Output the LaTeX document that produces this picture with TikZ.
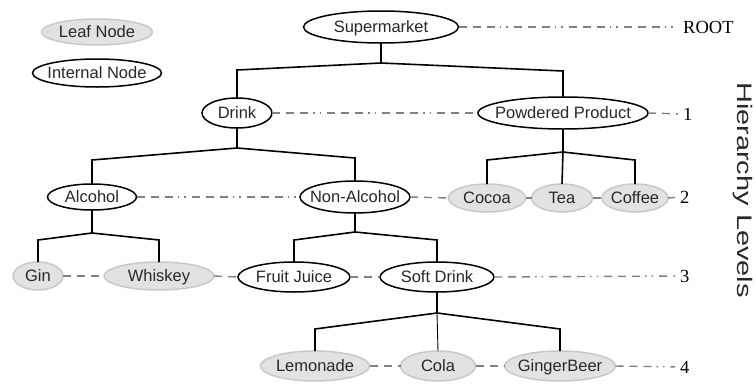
\documentclass[tikz,border=0pt]{standalone}
\usepackage{fontspec}
\usepackage{graphicx}
\setmainfont{Liberation Sans}
\newfontfamily\lvlfont{Liberation Serif}
\usetikzlibrary{shapes.geometric}
\definecolor{txt}{RGB}{40,40,40}
\definecolor{leaffill}{RGB}{226,226,226}
\definecolor{leafdraw}{RGB}{200,200,200}
\definecolor{lvlline}{RGB}{128,128,128}
\newcommand{\lb}[1]{\makebox[0pt]{#1}}
\tikzset{
  base/.style={ellipse, inner sep=0pt, outer sep=0pt, text=txt,
    text height=11.6pt, text depth=0pt,
    font=\fontsize{16.5}{18}\selectfont},
  internal/.style={base, draw=black, line width=1.5pt, fill=white},
  leaf/.style={base, draw=leafdraw, line width=1.5pt, fill=leaffill},
  lvl/.style={inner sep=0pt, anchor=west, text=black,
    font=\lvlfont\fontsize{18.5}{20}\selectfont},
  tree/.style={line width=1.6pt, black},
  thintree/.style={line width=0.9pt, black},
  level/.style={lvlline, line width=1.4pt,
    dash pattern=on 8pt off 6pt on 8pt off 6pt on 8pt off 5pt on 1.5pt off 5pt on 1.5pt off 6pt},
  tolabel/.style={level, shorten >=5pt}
}
\begin{document}
\begin{tikzpicture}[x=1pt,y=-1pt]
\useasboundingbox (0,0) rectangle (756,386);

% legend
\node[leaf, minimum width=111pt, minimum height=26pt] (legleaf) at (97,32) {\lb{Leaf Node}};
\node[internal, minimum width=129pt, minimum height=28pt] (legint) at (97,73) {\lb{Internal Node}};

% tree nodes
\node[internal, minimum width=155pt, minimum height=32pt] (sup) at (381,27) {\lb{Supermarket}};
\node[internal, minimum width=70pt, minimum height=30pt] (drink) at (237,113) {\lb{Drink}};
\node[internal, minimum width=170pt, minimum height=32pt] (powd) at (563,113) {\lb{Powdered Product}};
\node[internal, minimum width=89pt, minimum height=26pt] (alc) at (92,197) {\lb{Alcohol}};
\node[internal, minimum width=110pt, minimum height=32pt] (nonalc) at (355,197) {\lb{Non-Alcohol}};
\node[leaf, minimum width=77pt, minimum height=28pt] (cocoa) at (487,198) {\lb{Cocoa}};
\node[leaf, minimum width=61pt, minimum height=28pt] (tea) at (562,198) {\lb{Tea}};
\node[leaf, minimum width=66pt, minimum height=28pt] (coffee) at (635,198) {\lb{Coffee}};
\node[leaf, minimum width=50pt, minimum height=28pt] (gin) at (38,276) {\lb{Gin}};
\node[leaf, minimum width=110pt, minimum height=28pt] (whiskey) at (159,276) {\lb{Whiskey}};
\node[internal, minimum width=112pt, minimum height=30pt] (juice) at (294,277) {\lb{Fruit Juice}};
\node[internal, minimum width=114pt, minimum height=30pt] (soft) at (437,277) {\lb{Soft Drink}};
\node[leaf, minimum width=109pt, minimum height=30pt] (lemon) at (315,366) {\lb{Lemonade}};
\node[leaf, minimum width=75pt, minimum height=30pt] (cola) at (438,366) {\lb{Cola}};
\node[leaf, minimum width=111pt, minimum height=30pt] (ginger) at (560,366) {\lb{GingerBeer}};

% level labels
\node[lvl] (l0) at (683,27) {ROOT};
\node[lvl] (l1) at (683,114) {1};
\node[lvl] (l2) at (680,197) {2};
\node[lvl] (l3) at (680,276) {3};
\node[lvl] (l4) at (680,367) {4};
\node[rotate=-90, inner sep=0pt, text=txt, font=\fontsize{21}{24}\selectfont] (hl) at (743,190) {\scalebox{1.38}[1]{Hierarchy Levels}};

% level lines
\draw[tolabel] (sup.east) -- (l0.west);
\draw[level] (drink.east) -- (powd.west);
\draw[tolabel] (powd.east) -- (l1.west);
\draw[level] (alc.east) -- (nonalc.west);
\draw[level] (nonalc.east) -- (cocoa.west);
\draw[level] (cocoa.east) -- (tea.west);
\draw[level] (tea.east) -- (coffee.west);
\draw[tolabel] (coffee.east) -- (l2.west);
\draw[level] (gin.east) -- (whiskey.west);
\draw[level] (whiskey.east) -- (juice.west);
\draw[level] (juice.east) -- (soft.west);
\draw[tolabel] (soft.east) -- (l3.west);
\draw[level] (lemon.east) -- (cola.west);
\draw[level] (cola.east) -- (ginger.west);
\draw[tolabel] (ginger.east) -- (l4.west);

% tree junctions
\coordinate (j0) at (sup.south |- 0,63);
\coordinate (c0l) at (drink.north |- 0,70);
\coordinate (c0r) at (powd.north |- 0,71);
\coordinate (j1) at (drink.south |- 0,148);
\coordinate (c1l) at (alc.north |- 0,160);
\coordinate (c1r) at (nonalc.north |- 0,158);
\coordinate (j2) at (powd.south |- 0,152);
\coordinate (c2l) at (cocoa.north |- 0,160);
\coordinate (c2r) at (coffee.north |- 0,160);
\coordinate (j3) at (alc.south |- 0,233);
\coordinate (c3l) at (gin.north |- 0,240);
\coordinate (c3r) at (whiskey.north |- 0,240);
\coordinate (j4) at (nonalc.south |- 0,232);
\coordinate (c4l) at (juice.north |- 0,240);
\coordinate (c4r) at (soft.north |- 0,240);
\coordinate (j5) at (soft.south |- 0,313);
\coordinate (c5l) at (lemon.north |- 0,329);
\coordinate (c5r) at (ginger.north |- 0,329);

\draw[tree] (sup.south) -- (j0);
\draw[tree] (j0) -- (c0l) -- (drink.north);
\draw[tree] (j0) -- (c0r) -- (powd.north);
\draw[tree] (drink.south) -- (j1);
\draw[tree] (j1) -- (c1l) -- (alc.north);
\draw[tree] (j1) -- (c1r) -- (nonalc.north);
\draw[tree] (powd.south) -- (j2);
\draw[tree] (j2) -- (c2l) -- (cocoa.north);
\draw[tree] (j2) -- (tea.north);
\draw[tree] (j2) -- (c2r) -- (coffee.north);
\draw[tree] (alc.south) -- (j3);
\draw[tree] (j3) -- (c3l) -- (gin.north);
\draw[tree] (j3) -- (c3r) -- (whiskey.north);
\draw[tree] (nonalc.south) -- (j4);
\draw[tree] (j4) -- (c4l) -- (juice.north);
\draw[tree] (j4) -- (c4r) -- (soft.north);
\draw[tree] (soft.south) -- (j5);
\draw[tree] (j5) -- (c5l) -- (lemon.north);
\draw[thintree] (j5) -- (cola.north);
\draw[tree] (j5) -- (c5r) -- (ginger.north);
\end{tikzpicture}
\end{document}
